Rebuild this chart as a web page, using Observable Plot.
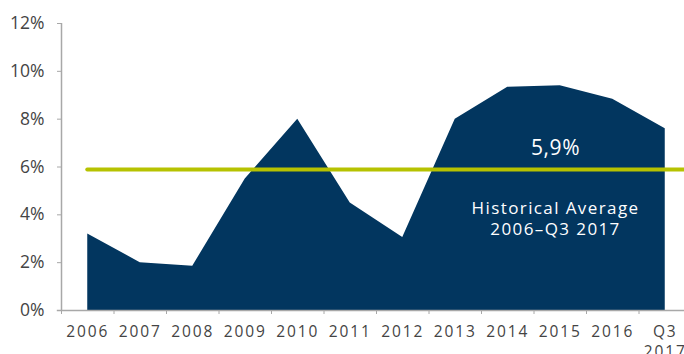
<!DOCTYPE html>
<html>
<head>
<meta charset="utf-8">
<script src="https://cdn.jsdelivr.net/npm/d3@7"></script>
<script src="https://cdn.jsdelivr.net/npm/@observablehq/plot@0.6"></script>
<style>
  html, body { margin: 0; padding: 0; background: #fff; }
  svg { overflow: hidden; }
  g[aria-label="x-axis tick label"] text { letter-spacing: 1.9px; }
</style>
</head>
<body>
<div id="chart"></div>
<script>
const periods = ["2006","2007","2008","2009","2010","2011","2012","2013","2014","2015","2016","Q3\n2017"];
const values = [3.2, 2.0, 1.85, 5.5, 8.0, 4.5, 3.05, 8.0, 9.33, 9.4, 8.83, 7.6];
const average = 5.9;
const averageLabel = "5,9%";
const averageNote = "Historical Average\n2006–Q3 2017";
const yTicks = [0, 2, 4, 6, 8, 10, 12];

const data = periods.map((p, i) => ({i, period: p, value: values[i]}));
const idx = periods.map((_, i) => i);
const bounds = periods.map((_, i) => i - 0.5);

const font = "'Open Sans', 'Noto Sans', sans-serif";
const axisColor = "#a8a8a8";

const chart = Plot.plot({
  width: 684,
  height: 354,
  marginTop: 23,
  marginBottom: 44,
  marginLeft: 61,
  marginRight: -7,
  style: {fontFamily: font, fontSize: "16px", color: "#444", background: "#fff"},
  x: {type: "linear", domain: [-0.5, periods.length - 0.5]},
  y: {domain: [0, 12]},
  marks: [
    Plot.areaY(data, {x: "i", y: "value", fill: "#02365f", curve: "linear"}),
    Plot.ruleY([average], {x1: 0, x2: periods.length - 0.5, stroke: "#b6c200", strokeWidth: 4, strokeLinecap: "round"}),
    Plot.text([averageLabel], {x: 8.91, y: 6.79, text: d => d, fill: "#fff", fontSize: 21, fontFamily: font}),
    Plot.text([averageNote], {x: 8.91, y: 3.87, text: d => d, fill: "#fff", fontSize: 17, lineHeight: 1.22, fontFamily: font}),
    Plot.ruleX([-0.5], {y1: 0, y2: 12, stroke: axisColor, strokeWidth: 1.5}),
    Plot.ruleY([0], {stroke: axisColor, strokeWidth: 1.5, x1: -0.58, x2: periods.length - 0.5}),
    Plot.axisY({ticks: yTicks, tickSize: 4, tickPadding: 13, stroke: axisColor, tickFormat: d => d + "%", fill: "#444", fontSize: 17.5, label: null, x: -0.5}),
    Plot.axisX({ticks: bounds, tickSize: 4, stroke: axisColor, tickFormat: () => "", label: null}),
    Plot.axisX({ticks: idx, tickSize: 0, tickPadding: 13, tickFormat: i => periods[i], fill: "#444", fontSize: 15.5, lineHeight: 1.25, label: null})
  ]
});
d3.select(chart).selectAll("text")
  .filter(function() { return this.textContent.includes("Historical"); })
  .attr("letter-spacing", "1.4px");
d3.select(chart).selectAll("text")
  .filter(function() { return this.textContent === averageLabel; })
  .attr("letter-spacing", "0.6px");
document.getElementById("chart").appendChild(chart);
</script>
</body>
</html>
